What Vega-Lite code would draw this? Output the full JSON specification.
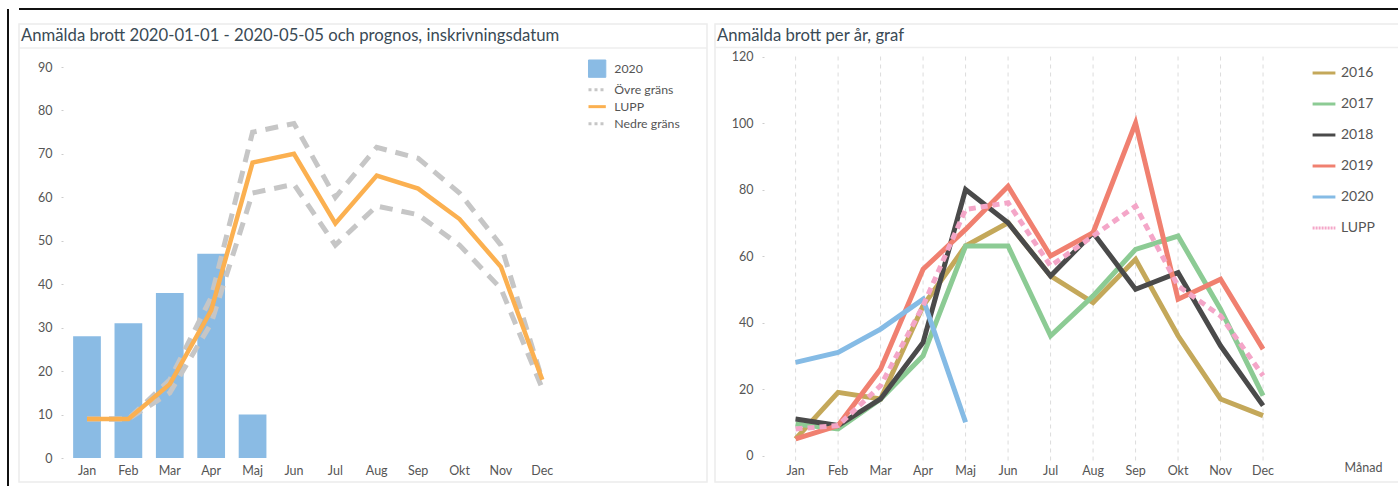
{"$schema":"https://vega.github.io/schema/vega-lite/v6.json","padding":{"left":6,"top":7,"right":0,"bottom":0},"spacing":8,"bounds":"flush","background":"white","resolve":{"scale":{"color":"independent"},"legend":{"color":"independent"}},"config":{"font":"Lato","view":{"stroke":"#ececec","strokeWidth":1.5},"axis":{"labelFont":"Lato","labelColor":"#555","labelFontSize":12.5,"grid":false,"domain":false},"title":{"font":"Lato","fontWeight":"normal","color":"#3a4a55"},"legend":{"labelFont":"Lato"}},
"datasets":{"left":[
{"m":"Jan","s":"2020","v":28},{"m":"Feb","s":"2020","v":31},{"m":"Mar","s":"2020","v":38},{"m":"Apr","s":"2020","v":47},{"m":"Maj","s":"2020","v":10},
{"m":"Jan","s":"Övre gräns","v":9},{"m":"Feb","s":"Övre gräns","v":9},{"m":"Mar","s":"Övre gräns","v":18},{"m":"Apr","s":"Övre gräns","v":37},{"m":"Maj","s":"Övre gräns","v":75},{"m":"Jun","s":"Övre gräns","v":77},{"m":"Jul","s":"Övre gräns","v":60},{"m":"Aug","s":"Övre gräns","v":71.5},{"m":"Sep","s":"Övre gräns","v":69},{"m":"Okt","s":"Övre gräns","v":61},{"m":"Nov","s":"Övre gräns","v":49},{"m":"Dec","s":"Övre gräns","v":18},
{"m":"Jan","s":"Nedre gräns","v":9},{"m":"Feb","s":"Nedre gräns","v":9},{"m":"Mar","s":"Nedre gräns","v":15},{"m":"Apr","s":"Nedre gräns","v":31},{"m":"Maj","s":"Nedre gräns","v":61},{"m":"Jun","s":"Nedre gräns","v":63},{"m":"Jul","s":"Nedre gräns","v":49},{"m":"Aug","s":"Nedre gräns","v":58},{"m":"Sep","s":"Nedre gräns","v":56},{"m":"Okt","s":"Nedre gräns","v":49},{"m":"Nov","s":"Nedre gräns","v":39},{"m":"Dec","s":"Nedre gräns","v":16},
{"m":"Jan","s":"LUPP","v":9},{"m":"Feb","s":"LUPP","v":9},{"m":"Mar","s":"LUPP","v":17},{"m":"Apr","s":"LUPP","v":34},{"m":"Maj","s":"LUPP","v":68},{"m":"Jun","s":"LUPP","v":70},{"m":"Jul","s":"LUPP","v":54},{"m":"Aug","s":"LUPP","v":65},{"m":"Sep","s":"LUPP","v":62},{"m":"Okt","s":"LUPP","v":55},{"m":"Nov","s":"LUPP","v":44},{"m":"Dec","s":"LUPP","v":18}],
"right":[
{"m":"Jan","s":"2016","v":5},{"m":"Feb","s":"2016","v":19},{"m":"Mar","s":"2016","v":17},{"m":"Apr","s":"2016","v":45},{"m":"Maj","s":"2016","v":63},{"m":"Jun","s":"2016","v":70},{"m":"Jul","s":"2016","v":54},{"m":"Aug","s":"2016","v":46},{"m":"Sep","s":"2016","v":59},{"m":"Okt","s":"2016","v":36},{"m":"Nov","s":"2016","v":17},{"m":"Dec","s":"2016","v":12},
{"m":"Jan","s":"2017","v":9.5},{"m":"Feb","s":"2017","v":8},{"m":"Mar","s":"2017","v":17},{"m":"Apr","s":"2017","v":30},{"m":"Maj","s":"2017","v":63},{"m":"Jun","s":"2017","v":63},{"m":"Jul","s":"2017","v":36},{"m":"Aug","s":"2017","v":48},{"m":"Sep","s":"2017","v":62},{"m":"Okt","s":"2017","v":66},{"m":"Nov","s":"2017","v":44},{"m":"Dec","s":"2017","v":18},
{"m":"Jan","s":"2018","v":11},{"m":"Feb","s":"2018","v":9},{"m":"Mar","s":"2018","v":17},{"m":"Apr","s":"2018","v":34},{"m":"Maj","s":"2018","v":80},{"m":"Jun","s":"2018","v":70},{"m":"Jul","s":"2018","v":54},{"m":"Aug","s":"2018","v":67},{"m":"Sep","s":"2018","v":50},{"m":"Okt","s":"2018","v":55},{"m":"Nov","s":"2018","v":33},{"m":"Dec","s":"2018","v":15},
{"m":"Jan","s":"2019","v":5},{"m":"Feb","s":"2019","v":9},{"m":"Mar","s":"2019","v":26},{"m":"Apr","s":"2019","v":56},{"m":"Maj","s":"2019","v":68},{"m":"Jun","s":"2019","v":81},{"m":"Jul","s":"2019","v":60},{"m":"Aug","s":"2019","v":67},{"m":"Sep","s":"2019","v":100},{"m":"Okt","s":"2019","v":47},{"m":"Nov","s":"2019","v":53},{"m":"Dec","s":"2019","v":32},
{"m":"Jan","s":"2020","v":28},{"m":"Feb","s":"2020","v":31},{"m":"Mar","s":"2020","v":38},{"m":"Apr","s":"2020","v":47},{"m":"Maj","s":"2020","v":10},
{"m":"Jan","s":"LUPP","v":8},{"m":"Feb","s":"LUPP","v":9},{"m":"Mar","s":"LUPP","v":21},{"m":"Apr","s":"LUPP","v":45},{"m":"Maj","s":"LUPP","v":74},{"m":"Jun","s":"LUPP","v":76},{"m":"Jul","s":"LUPP","v":57},{"m":"Aug","s":"LUPP","v":66},{"m":"Sep","s":"LUPP","v":75},{"m":"Okt","s":"LUPP","v":51},{"m":"Nov","s":"LUPP","v":42},{"m":"Dec","s":"LUPP","v":24}]},
"hconcat":[
{"width":688,"height":458,"title":{"text":"Anmälda brott 2020-01-01 - 2020-05-05 och prognos, inskrivningsdatum","anchor":"start","frame":"group","fontSize":16.7,"offset":-37,"dx":2},
"data":{"name":"left"},
"encoding":{"x":{"field":"m","type":"nominal","sort":["Jan","Feb","Mar","Apr","Maj","Jun","Jul","Aug","Sep","Okt","Nov","Dec"],"title":null,"scale":{"range":[47.3,544],"paddingInner":0.33,"paddingOuter":0.165},"axis":{"labelAngle":0,"ticks":false,"offset":-21,"labelPadding":3}},
"y":{"field":"v","type":"quantitative","title":null,"scale":{"domain":[0,90],"range":[434,43],"nice":false},"axis":{"values":[0,10,20,30,40,50,60,70,80,90],"offset":-44,"tickSize":2,"tickColor":"#ccc","labelPadding":9}}},
"layer":[
{"transform":[{"filter":"datum.s==='LUPP'&&datum.m==='Jan'"}],"mark":{"type":"rule","strokeWidth":1.5},"encoding":{"x":null,"y":{"datum":94.37},"color":{"value":"#eeeeee"}}},
{"transform":[{"filter":"datum.s==='LUPP'&&datum.m==='Jan'"}],"mark":{"type":"rule","strokeWidth":2,"xOffset":-12},"encoding":{"x":null,"y":{"datum":103.35},"color":{"value":"#111111"}}},
{"transform":[{"filter":"datum.s==='LUPP'&&datum.m==='Jan'"}],"mark":{"type":"rule","strokeWidth":2,"xOffset":8},"encoding":{"x":null,"y":{"datum":103.35},"color":{"value":"#111111"}}},
{"transform":[{"filter":"datum.s==='LUPP'&&datum.m==='Jan'"}],"mark":{"type":"rule","strokeWidth":2},"encoding":{"x":{"value":-11},"y":{"datum":103.35},"y2":{"datum":-6.68},"color":{"value":"#111111"}}},
{"transform":[{"filter":"datum.s==='2020'"}],"mark":{"type":"bar"},"encoding":{"color":{"field":"s","type":"nominal","scale":{"domain":["2020","Övre gräns","LUPP","Nedre gräns"],"range":["#8abbe4","#c6c6c6","#fbb050","#c6c6c6"]},"legend":{"orient":"none","legendX":572,"legendY":38.5,"title":null,"symbolType":"stroke","symbolStrokeWidth":3,"labelFontSize":12.3,"labelColor":"#555","labelOffset":11,"rowPadding":4,"symbolSize":300,"values":["2020","Övre gräns","LUPP","Nedre gräns"],"encoding":{"symbols":{"shape":{"value":{"expr":"datum.value==='2020'?'square':'stroke'"}},"size":{"value":{"expr":"datum.value==='2020'?300:300"}},"fill":{"value":{"expr":"datum.value==='2020'?'#8abbe4':'transparent'"}},"stroke":{"value":{"expr":"datum.value==='2020'?'#6d9cc4':(datum.value==='LUPP'?'#fbb050':'#c6c6c6')"}},"strokeWidth":{"value":{"expr":"datum.value==='2020'?1:3"}},"strokeDash":{"value":{"expr":"datum.value==='Övre gräns'||datum.value==='Nedre gräns'?[3,3]:[]"}}}}}}}},
{"transform":[{"filter":"datum.s==='Övre gräns'||datum.s==='Nedre gräns'"}],"mark":{"type":"line","strokeWidth":5,"strokeDash":[13,9]},"encoding":{"detail":{"field":"s"},"color":{"field":"s","type":"nominal"}}},
{"transform":[{"filter":"datum.s==='LUPP'"}],"mark":{"type":"line","strokeWidth":4.5},"encoding":{"color":{"field":"s","type":"nominal"}}}
]},
{"width":684,"height":458,"title":{"text":"Anmälda brott per år, graf","anchor":"start","frame":"group","fontSize":16.7,"offset":-37,"dx":2},
"data":{"name":"right"},
"encoding":{"x":{"field":"m","type":"nominal","sort":["Jan","Feb","Mar","Apr","Maj","Jun","Jul","Aug","Sep","Okt","Nov","Dec"],"scale":{"range":[59.35,569.3]},"title":"Månad","axis":{"labelAngle":0,"ticks":false,"offset":-21,"labelPadding":3,"titleX":648,"titleY":6,"titleBaseline":"middle","titleFontWeight":"normal","titleFontSize":12.5,"titleColor":"#555","titleFont":"Lato"}},
"y":{"field":"v","type":"quantitative","title":null,"scale":{"domain":[0,120],"range":[431.5,32.5],"nice":false},"axis":{"values":[0,20,40,60,80,100,120],"offset":-49,"tickSize":2,"tickColor":"#ccc","labelPadding":9}}},
"layer":[
{"transform":[{"filter":"datum.s==='LUPP'&&datum.m==='Jan'"}],"mark":{"type":"rule","strokeWidth":1.5},"encoding":{"x":null,"y":{"datum":122.7},"color":{"value":"#eeeeee"}}},
{"transform":[{"filter":"datum.s==='LUPP'&&datum.m==='Jan'"}],"mark":{"type":"rule","strokeWidth":2},"encoding":{"x":null,"y":{"datum":134.3},"color":{"value":"#111111"}}},
{"transform":[{"filter":"datum.s==='LUPP'"}],"mark":{"type":"rule","strokeDash":[4,4],"strokeWidth":1},"encoding":{"y":{"datum":120},"y2":{"datum":-2},"color":{"value":"#dcdcdc"}}},
{"transform":[{"filter":"datum.s!=='LUPP'"}],"mark":{"type":"line","strokeWidth":5},"encoding":{"color":{"field":"s","type":"nominal","scale":{"domain":["2016","2017","2018","2019","2020","LUPP"],"range":["#c4a85a","#8ccb94","#4a4a4a","#f08070","#85bbe5","#f4a6c8"]},"legend":{"orient":"none","legendX":596,"legendY":36,"title":null,"symbolType":"stroke","symbolStrokeWidth":3,"labelFontSize":14,"labelColor":"#555","rowPadding":11,"symbolSize":520,"values":["2016","2017","2018","2019","2020","LUPP"],"encoding":{"symbols":{"strokeDash":{"value":{"expr":"datum.value==='LUPP'?[2,1]:[]"}}}}}}}},
{"transform":[{"filter":"datum.s==='LUPP'"}],"mark":{"type":"line","strokeWidth":5,"strokeDash":[7,5]},"encoding":{"color":{"field":"s","type":"nominal"}}}
]}
]}
